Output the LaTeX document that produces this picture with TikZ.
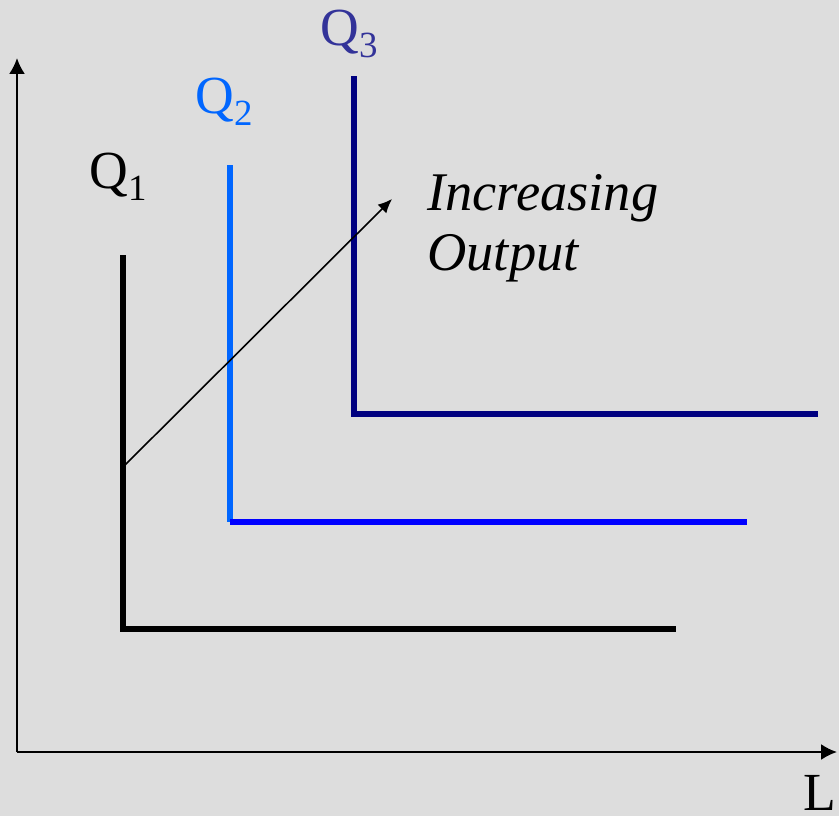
\documentclass[tikz,border=0pt]{standalone}
\usepackage{fontspec}
\setmainfont{Liberation Serif}
\usetikzlibrary{arrows.meta, positioning}

\definecolor{bgGrey}{HTML}{DDDDDD}
\definecolor{qOneBlack}{HTML}{000000}
\definecolor{qTwoLight}{HTML}{0066FF}
\definecolor{qTwoBlue}{HTML}{0000FF}
\definecolor{qThreeNavy}{HTML}{000080}
\definecolor{qThreeLabel}{HTML}{333399}

\newcommand{\qsub}[1]{\raisebox{-0.5ex}{\fontsize{21}{21}\selectfont #1}}

\begin{document}
\begin{tikzpicture}[
  x=0.02cm, y=-0.02cm,
  axis/.style = {line width=1.2pt, -{Latex[length=9pt, width=9pt]}},
  isoquant/.style = {line width=3.4pt},
  qlabel/.style = {font=\fontsize{30.5}{34}\selectfont, inner sep=0pt},
  growarrow/.style = {line width=0.9pt, -{Latex[length=8pt, width=7pt]}}
]

% Background and frame
\fill[bgGrey] (0,0) rectangle (839,816);
\useasboundingbox (0,0) rectangle (839,816);

% Axes
\coordinate (origin) at (17,752);
\coordinate (ytop) at (17,58);
\coordinate (xend) at (837,752);
\draw[axis] (origin) -- (ytop);
\draw[axis] (origin) -- (xend);
\node[qlabel, anchor=base] (labL) at (820,810) {L};

% Isoquant corners
\coordinate (q1top) at (123,255);
\coordinate (q1corner) at (123,629);
\coordinate (q1end) at (676,629);
\coordinate (q2top) at (230,165);
\coordinate (q2corner) at (230,522);
\coordinate (q2end) at (747,522);
\coordinate (q3top) at (354,76);
\coordinate (q3corner) at (354,414);
\coordinate (q3end) at (818,414);

% Isoquants
\draw[isoquant, qOneBlack] (q1top) -- (q1corner) -- (q1end);
\draw[isoquant, qTwoLight] (q2top) -- (q2corner);
\draw[isoquant, qTwoBlue] (q2corner) -- (q2end);
\draw[isoquant, qThreeNavy] (q3top) -- (q3corner) -- (q3end);

% Labels
\node[qlabel, text=qOneBlack, anchor=base west] (labQ1) at (89,188) {Q\qsub{1}};
\node[qlabel, text=qTwoLight, anchor=base west] (labQ2) at (195,113) {Q\qsub{2}};
\node[qlabel, text=qThreeLabel, anchor=base west] (labQ3) at (320,45) {Q\qsub{3}};

% Direction of growth
\coordinate (growfrom) at (124,466);
\coordinate (growto) at (392,199);
\draw[growarrow] (growfrom) -- (growto);
\node[qlabel, anchor=base west, align=left, font=\fontsize{31}{34}\selectfont\itshape] (growth) at (427,270) {Increasing\\Output};

\end{tikzpicture}
\end{document}
